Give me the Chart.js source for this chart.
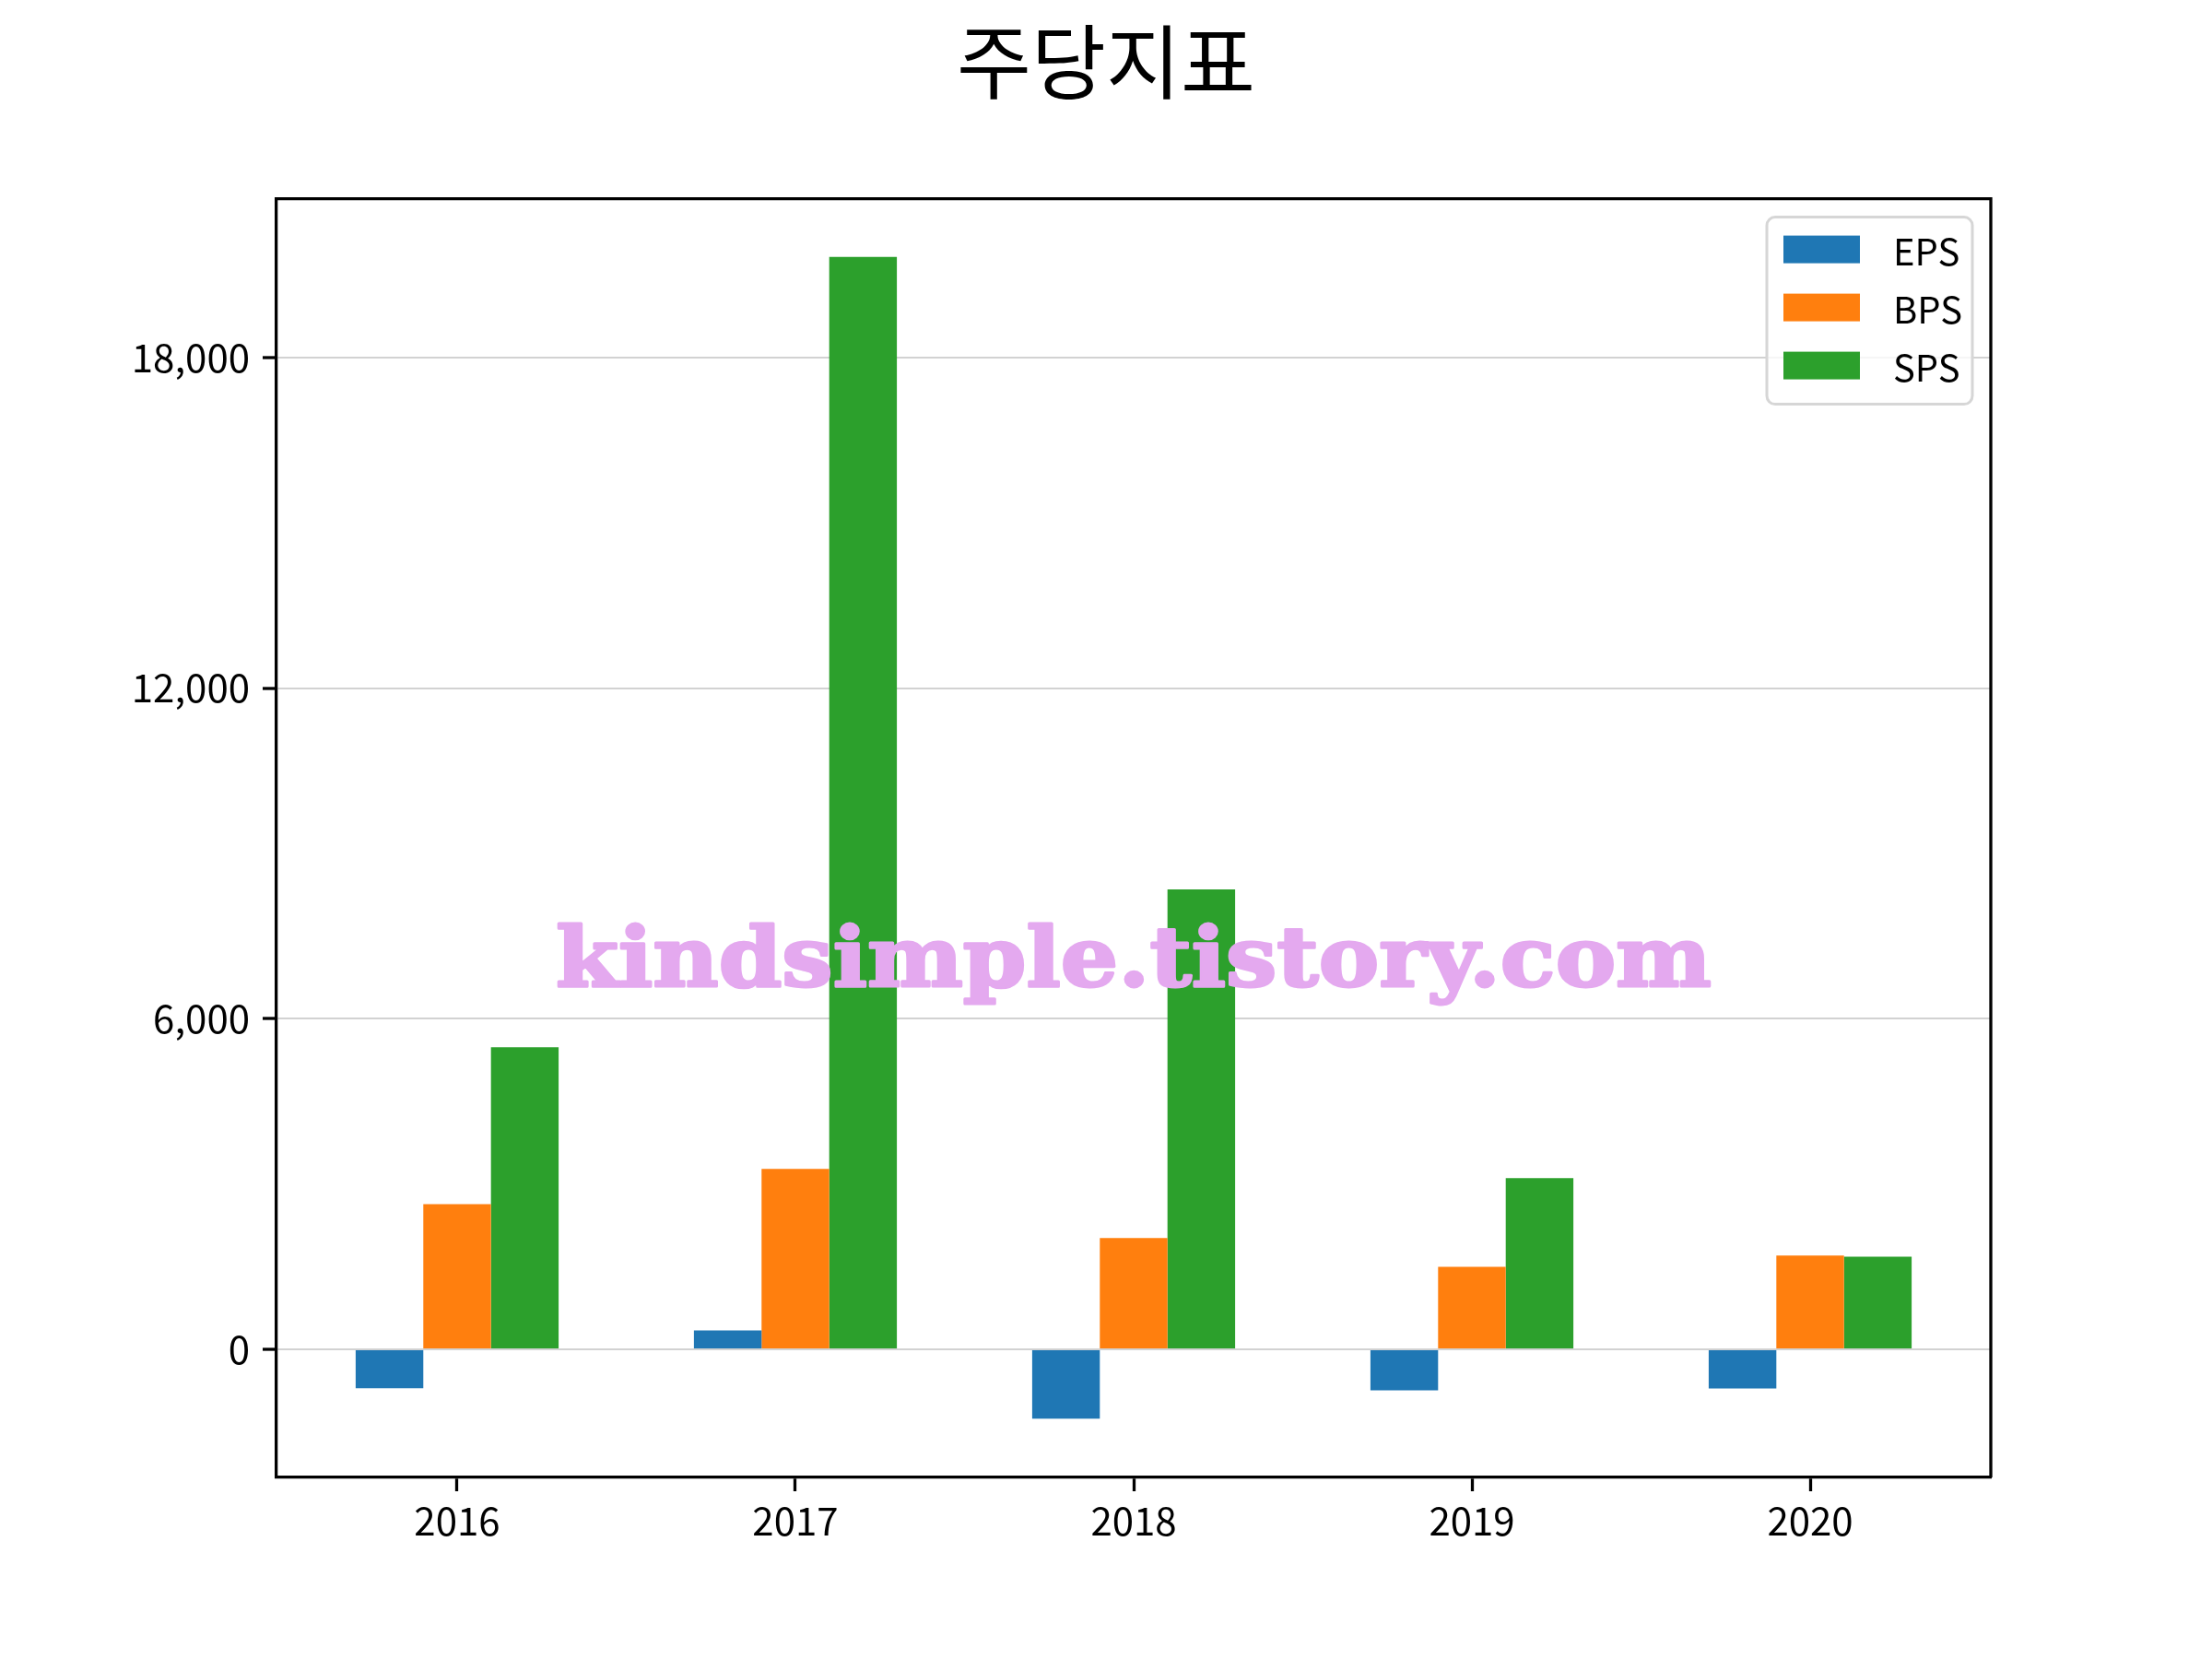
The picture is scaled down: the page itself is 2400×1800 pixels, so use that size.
<!DOCTYPE html>
<html>
<head>
<meta charset="utf-8">
<script src="https://cdn.jsdelivr.net/npm/chart.js@4"></script>
<style>
  html, body { margin: 0; padding: 0; background: #fff; }
  canvas { display: block; }
</style>
</head>
<body>
<canvas id="chart" width="2400" height="1800"></canvas>
<script>
  // Daten
  // ----------------------------------------------------------------------------------------
  const years  = ['2016', '2017', '2018', '2019', '2020'];
  const eps    = [-706, 340, -1260, -745, -711];
  const bps    = [2633, 3274, 2018, 1498, 1699];
  const sps    = [5483, 19824, 8345, 3105, 1682];
  const yTicks = [0, 6000, 12000, 18000];

  const title     = '주당지표';
  const watermark = 'kindsimple.tistory.com';
  const FONT      = '"Noto Sans CJK KR", "Noto Sans", sans-serif';

  const toPoints = (arr) => arr.map((v, i) => ({ x: i, y: v }));

  // Rahmen oben/rechts (x/y Achse zeichnen unten/links)
  // ----------------------------------------------------------------------------------------
  const framePlugin = {
    id: 'frame',
    afterDatasetsDraw(chart) {
      const { ctx, chartArea: a } = chart;
      ctx.save();
      ctx.strokeStyle = '#000';
      ctx.lineWidth = 3.3;
      ctx.beginPath();
      ctx.moveTo(a.left, a.top);
      ctx.lineTo(a.right, a.top);
      ctx.lineTo(a.right, a.bottom);
      ctx.stroke();
      ctx.restore();
    }
  };

  // Legende im Plotbereich oben rechts
  // ----------------------------------------------------------------------------------------
  const legendPlugin = {
    id: 'innerLegend',
    afterDraw(chart) {
      const { ctx, chartArea: a } = chart;
      const x0 = a.right - 243, y0 = a.top + 20, w = 223, h = 203;
      ctx.save();
      ctx.beginPath();
      ctx.roundRect(x0, y0, w, h, 9);
      ctx.fillStyle = 'rgba(255,255,255,0.8)';
      ctx.fill();
      ctx.strokeStyle = '#d6d6d6';
      ctx.lineWidth = 3;
      ctx.stroke();

      ctx.font = '40px ' + FONT;
      ctx.textBaseline = 'middle';
      chart.data.datasets.forEach((ds, i) => {
        const cy = y0 + 35 + i * 63;
        ctx.fillStyle = ds.backgroundColor;
        ctx.fillRect(x0 + 18, cy - 15, 83, 30);
        ctx.fillStyle = '#000';
        ctx.fillText(ds.label, x0 + 137, cy + 2);
      });
      ctx.restore();
    }
  };

  // Wasserzeichen
  // ----------------------------------------------------------------------------------------
  const watermarkPlugin = {
    id: 'watermark',
    afterDraw(chart) {
      const { ctx, chartArea: a } = chart;
      ctx.save();
      ctx.font = 'bold 90px "DejaVu Serif", serif';
      const tw = ctx.measureText(watermark).width;
      const target = 1254;
      const cx = (a.left + a.right) / 2;
      ctx.translate(cx, 1070);
      ctx.scale(target / tw, 1);
      ctx.textAlign = 'center';
      ctx.textBaseline = 'alphabetic';
      ctx.fillStyle = '#e4a9ef';
      ctx.strokeStyle = '#e4a9ef';
      ctx.lineWidth = 3;
      ctx.lineJoin = 'round';
      ctx.strokeText(watermark, 0, 0);
      ctx.fillText(watermark, 0, 0);
      ctx.restore();
    }
  };

  new Chart(document.getElementById('chart'), {
    type: 'bar',
    data: {
      datasets: [
        { label: 'EPS', data: toPoints(eps), backgroundColor: '#1f77b4' },
        { label: 'BPS', data: toPoints(bps), backgroundColor: '#ff7f0e' },
        { label: 'SPS', data: toPoints(sps), backgroundColor: '#2ca02c' }
      ]
    },
    options: {
      responsive: false,
      devicePixelRatio: 1,
      animation: false,
      layout: { padding: 0 },
      datasets: {
        bar: { categoryPercentage: 0.6, barPercentage: 1.0, borderWidth: 0 }
      },
      plugins: {
        legend: { display: false },
        tooltip: { enabled: false },
        title: {
          display: true,
          text: title,
          color: '#000',
          font: { family: FONT, size: 88, weight: 'normal', lineHeight: 1.2 },
          padding: { top: 14, bottom: 96 }
        }
      },
      scales: {
        x: {
          type: 'linear',
          min: -0.534,
          max: 4.534,
          offset: false,
          afterFit: (s) => { s.height = 197; },
          afterBuildTicks: (s) => { s.ticks = years.map((_, i) => ({ value: i })); },
          grid: {
            offset: false,
            drawOnChartArea: false,
            drawTicks: true,
            tickLength: 15,
            tickColor: '#000',
            tickWidth: 3.3
          },
          border: { display: true, color: '#000', width: 3.3 },
          ticks: {
            color: '#000',
            padding: 7,
            font: { family: FONT, size: 42 },
            callback: (v) => years[v] ?? ''
          }
        },
        y: {
          min: -2326,
          max: 20880,
          z: 1,
          afterFit: (s) => { s.width = 300; },
          afterBuildTicks: (s) => { s.ticks = yTicks.map(v => ({ value: v })); },
          grid: {
            color: '#d2d2d2',
            lineWidth: 2,
            drawTicks: true,
            tickLength: 15,
            tickColor: '#000',
            tickWidth: 3.3
          },
          border: { display: true, color: '#000', width: 3.3 },
          ticks: {
            color: '#000',
            padding: 14,
            font: { family: FONT, size: 42 },
            callback: (v) => Number(v).toLocaleString('en-US')
          }
        },
        // leerer Rand rechts, damit der Titel über der ganzen Figur zentriert bleibt
        yRight: {
          position: 'right',
          display: true,
          afterFit: (s) => { s.width = 240; },
          grid: { display: false, drawTicks: false },
          border: { display: false },
          ticks: { display: false }
        }
      }
    },
    plugins: [framePlugin, legendPlugin, watermarkPlugin]
  });
</script>
</body>
</html>
